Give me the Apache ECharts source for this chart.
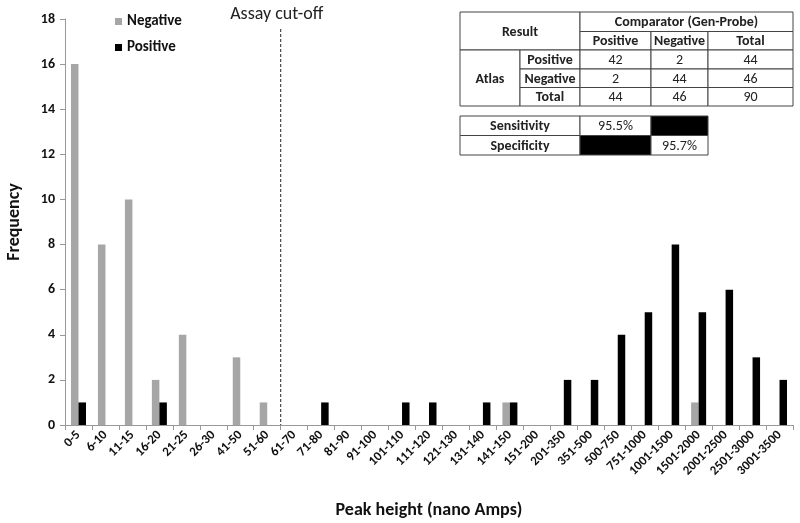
<!DOCTYPE html>
<html>
<head>
<meta charset="utf-8">
<script src="https://cdn.jsdelivr.net/npm/echarts@6/dist/echarts.min.js"></script>
<style>
  html, body { margin: 0; padding: 0; background: #fff; }
  #chart { width: 800px; height: 523px; }
</style>
</head>
<body>
<div id="chart"></div>
<script>
// peak height bins (nano Amps)
const categories = ['0-5', '6-10', '11-15', '16-20', '21-25', '26-30', '41-50', '51-60', '61-70',
  '71-80', '81-90', '91-100', '101-110', '111-120', '121-130', '131-140', '141-150', '151-200',
  '201-350', '351-500', '500-750', '751-1000', '1001-1500', '1501-2000', '2001-2500', '2501-3000', '3001-3500'];
const negative = [16, 8, 10, 2, 4, 0, 3, 1, 0, 0, 0, 0, 0, 0, 0, 0, 1, 0, 0, 0, 0, 0, 0, 1, 0, 0, 0];
const positive = [1, 0, 0, 1, 0, 0, 0, 0, 0, 1, 0, 0, 1, 1, 0, 1, 1, 0, 2, 2, 4, 5, 8, 5, 6, 3, 2];
const yTicks = [0, 2, 4, 6, 8, 10, 12, 14, 16, 18];
const cutoffAfter = '51-60'; // assay cut-off sits right after this bin

// 2x2 table
const compHeader = ['Positive', 'Negative', 'Total'];
const atlasRows = ['Positive', 'Negative', 'Total'];
const tableValues = [
  [42, 2, 44],
  [2, 44, 46],
  [44, 46, 90],
];
const sensitivity = '95.5%';
const specificity = '95.7%';

const FONT = 'Carlito, Lato, "Open Sans", sans-serif';
const chart = echarts.init(document.getElementById('chart'));

// table geometry
const colX = [460, 520, 580, 651, 708, 793];
const rowY = [12, 31.5, 50, 69, 87.5, 106];
const col2X = [460, 580, 651, 708];
const row2Y = [116, 135.5, 155];

function cell(els, x0, y0, x1, y1, text, bold, fill) {
  els.push({
    type: 'rect',
    shape: { x: x0, y: y0, width: x1 - x0, height: y1 - y0 },
    style: { fill: fill || '#fff', stroke: '#444', lineWidth: 1 },
    z: 10,
  });
  if (text !== '') {
    els.push({
      type: 'text',
      x: (x0 + x1) / 2,
      y: (y0 + y1) / 2 + 1,
      style: {
        text: String(text),
        fill: '#222',
        font: (bold ? 'bold ' : '') + '14px ' + FONT,
        align: 'center',
        verticalAlign: 'middle',
      },
      z: 11,
    });
  }
}

function buildTable() {
  const els = [];
  cell(els, colX[0], rowY[0], colX[2], rowY[2], 'Result', true);
  cell(els, colX[2], rowY[0], colX[5], rowY[1], 'Comparator (Gen-Probe)', true);
  compHeader.forEach((h, i) => {
    cell(els, colX[2 + i], rowY[1], colX[3 + i], rowY[2], h, true);
  });
  cell(els, colX[0], rowY[2], colX[1], rowY[5], 'Atlas', true);
  atlasRows.forEach((r, j) => {
    cell(els, colX[1], rowY[2 + j], colX[2], rowY[3 + j], r, true);
    tableValues[j].forEach((v, i) => {
      cell(els, colX[2 + i], rowY[2 + j], colX[3 + i], rowY[3 + j], v, false);
    });
  });
  cell(els, col2X[0], row2Y[0], col2X[1], row2Y[1], 'Sensitivity', true);
  cell(els, col2X[1], row2Y[0], col2X[2], row2Y[1], sensitivity, false);
  cell(els, col2X[2], row2Y[0], col2X[3], row2Y[1], '', false, '#000');
  cell(els, col2X[0], row2Y[1], col2X[1], row2Y[2], 'Specificity', true);
  cell(els, col2X[1], row2Y[1], col2X[2], row2Y[2], '', false, '#000');
  cell(els, col2X[2], row2Y[1], col2X[3], row2Y[2], specificity, false);
  return els;
}

const option = {
  animation: false,
  backgroundColor: '#fff',
  grid: { left: 65, right: 7, top: 19, bottom: 98, outerBoundsMode: 'none' },
  legend: {
    orient: 'vertical',
    left: 110,
    top: 9,
    itemWidth: 7,
    itemHeight: 7,
    itemGap: 11,
    icon: 'rect',
    textStyle: { fontFamily: FONT, fontWeight: 'bold', fontSize: 15, color: '#111' },
    data: ['Negative', 'Positive'],
  },
  xAxis: {
    type: 'category',
    data: categories,
    name: 'Peak height (nano Amps)',
    nameLocation: 'middle',
    nameGap: 76,
    nameMoveOverlap: false,
    nameTextStyle: { fontFamily: FONT, fontWeight: 'bold', fontSize: 18, color: '#111' },
    axisLine: { lineStyle: { color: '#999' } },
    axisTick: { show: true, lineStyle: { color: '#999' }, length: 5 },
    axisLabel: {
      rotate: 45,
      interval: 0,
      fontFamily: FONT,
      fontWeight: 'bold',
      fontSize: 13,
      color: '#111',
      margin: 8,
    },
  },
  yAxis: {
    type: 'value',
    min: yTicks[0],
    max: yTicks[yTicks.length - 1],
    interval: 2,
    name: 'Frequency',
    nameLocation: 'middle',
    nameGap: 42,
    nameMoveOverlap: false,
    nameTextStyle: { fontFamily: FONT, fontWeight: 'bold', fontSize: 18, color: '#111' },
    axisLine: { show: true, lineStyle: { color: '#999' } },
    axisTick: { show: true, lineStyle: { color: '#999' }, length: 5 },
    splitLine: { show: false },
    axisLabel: { fontFamily: FONT, fontWeight: 'bold', fontSize: 14, color: '#111', margin: 10 },
  },
  series: [
    {
      name: 'Negative',
      type: 'bar',
      data: negative,
      barWidth: 7.5,
      barGap: '0%',
      itemStyle: { color: '#a6a6a6' },
    },
    {
      name: 'Positive',
      type: 'bar',
      data: positive,
      barWidth: 7.5,
      itemStyle: { color: '#000' },
    },
  ],
  graphic: buildTable(),
};

chart.setOption(option);

// assay cut-off line between bins, placed through the axis scale
const idx = categories.indexOf(cutoffAfter);
const xa = chart.convertToPixel({ xAxisIndex: 0 }, categories[idx]);
const xb = chart.convertToPixel({ xAxisIndex: 0 }, categories[idx + 1]);
const xCut = (xa + xb) / 2;
const yBase = chart.convertToPixel({ yAxisIndex: 0 }, 0);
chart.setOption({
  graphic: buildTable().concat([
    {
      type: 'line',
      shape: { x1: xCut, y1: 29, x2: xCut, y2: yBase },
      style: { stroke: '#222', lineWidth: 1, lineDash: [3, 2] },
      z: 5,
    },
    {
      type: 'text',
      x: xCut - 4,
      y: 14,
      style: {
        text: 'Assay cut-off',
        fill: '#222',
        font: '18px ' + FONT,
        align: 'center',
        verticalAlign: 'middle',
      },
      z: 5,
    },
  ]),
});
</script>
</body>
</html>
